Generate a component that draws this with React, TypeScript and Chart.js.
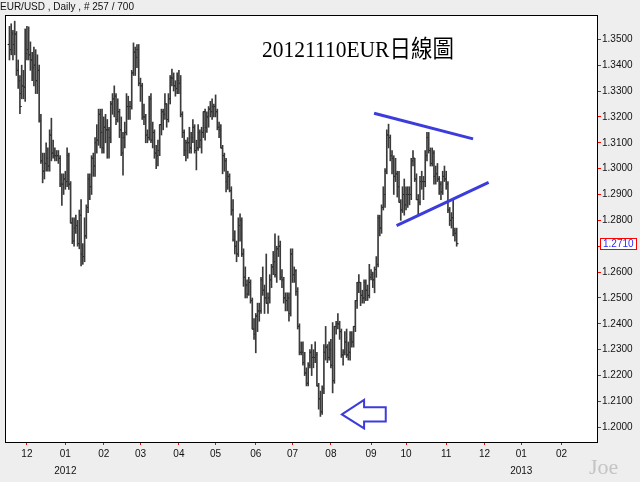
import React, { useEffect, useRef } from "react";
import { Chart, registerables } from "chart.js";
Chart.register(...registerables);

// Bar index = weekday count from 2011-12-01 (index 0). First bar is 2011-11-17.
const firstIndex = -10;

const opens = [
  1.3480,1.3460,1.3520,1.3480,1.3520,1.3380,1.3340,1.3290,1.3320,1.3315,
  1.3445,1.3460,1.3440,1.3420,1.3390,1.3400,1.3340,1.3380,1.3185,1.3030,1.2990,1.3020,1.3040,1.3010,1.3130,1.3060,1.3050,1.3050,1.3050,1.3040,1.2940,1.2940,
  1.2960,1.2950,1.3050,1.2940,1.2790,1.2720,1.2770,1.2780,1.2710,1.2820,1.2670,1.2660,1.2740,1.2850,1.2960,1.2930,1.3040,1.3010,1.3100,1.3110,1.3210,1.3140,
  1.3080,1.3160,1.3150,1.3150,1.3120,1.3250,1.3270,1.3280,1.3190,1.3220,1.3150,1.3060,1.3120,1.3140,1.3240,1.3240,1.3240,1.3370,1.3450,1.3430,1.3460,
  1.3330,1.3320,1.3200,1.3200,1.3130,1.3120,1.3270,1.3110,1.3140,1.3060,1.3050,1.3070,1.3170,1.3220,1.3210,1.3250,1.3190,1.3270,1.3350,1.3350,1.3320,1.3310,
  1.3340,1.3330,1.3210,1.3140,1.3070,1.3100,1.3100,1.3080,1.3120,1.3160,1.3070,1.3080,1.3140,1.3110,1.3140,1.3220,1.3160,1.3200,1.3230,1.3220,1.3240,
  1.3240,1.3220,1.3160,1.3150,1.3080,1.3050,1.3030,1.2950,1.2970,1.2915,1.2840,1.2725,1.2700,1.2670,1.2780,1.2800,1.2670,1.2580,1.2550,1.2515,1.2560,1.2490,1.2380,
  1.2360,1.2430,1.2450,1.2450,1.2570,1.2530,1.2500,1.2480,1.2500,1.2570,1.2620,1.2640,1.2590,1.2690,1.2700,1.2580,1.2570,1.2500,1.2490,1.2500,1.2440,
  1.2670,1.2590,1.2605,1.2525,1.2390,1.2290,1.2290,1.2250,1.2210,1.2170,1.2240,1.2290,1.2270,1.2270,1.2280,1.2160,1.2110,1.2060,1.2150,1.2290,1.2310,1.2270,
  1.2300,1.2240,1.2180,1.2390,1.2400,1.2400,1.2370,1.2280,1.2290,1.2330,1.2280,1.2290,1.2340,1.2330,1.2390,1.2490,1.2560,1.2560,1.2510,1.2500,1.2560,1.2530,1.2510,
  1.2580,1.2590,1.2570,1.2610,1.2630,1.2810,1.2770,1.2850,1.2900,1.2990,1.3130,1.3120,1.3050,1.3040,1.2970,1.2980,1.2930,1.2870,1.2840,1.2900,
  1.2860,1.2900,1.2900,1.2900,1.3030,1.3040,1.2960,1.2880,1.2870,1.2950,1.2950,1.2950,1.3050,1.3120,1.3070,1.3020,1.3060,1.2970,1.2980,1.2960,1.2940,1.2910,1.2970,
  1.2960,1.2940,1.2840,1.2800,1.2810,1.2760,1.2750,
];
const highs = [
  1.3550,1.3560,1.3535,1.3570,1.3530,1.3420,1.3360,1.3400,1.3380,1.3540,
  1.3550,1.3548,1.3490,1.3450,1.3470,1.3460,1.3440,1.3400,1.3210,1.3060,1.3060,1.3100,1.3080,1.3150,1.3195,1.3110,1.3080,1.3070,1.3070,1.3050,1.2980,1.2980,
  1.2990,1.3080,1.3060,1.2950,1.2810,1.2810,1.2820,1.2800,1.2840,1.2880,1.2710,1.2810,1.2860,1.2980,1.2980,1.3050,1.3060,1.3120,1.3170,1.3230,1.3230,1.3230,
  1.3200,1.3210,1.3190,1.3160,1.3260,1.3290,1.3320,1.3290,1.3270,1.3230,1.3200,1.3140,1.3180,1.3290,1.3280,1.3260,1.3380,1.3486,1.3470,1.3480,1.3480,
  1.3350,1.3330,1.3250,1.3210,1.3150,1.3280,1.3290,1.3180,1.3150,1.3090,1.3110,1.3170,1.3230,1.3230,1.3290,1.3250,1.3290,1.3360,1.3385,1.3370,1.3340,1.3370,
  1.3380,1.3360,1.3220,1.3150,1.3110,1.3120,1.3160,1.3140,1.3190,1.3170,1.3110,1.3170,1.3150,1.3160,1.3220,1.3230,1.3220,1.3240,1.3260,1.3270,1.3250,
  1.3285,1.3230,1.3180,1.3170,1.3090,1.3060,1.3040,1.2990,1.2980,1.2930,1.2880,1.2760,1.2720,1.2810,1.2825,1.2810,1.2690,1.2620,1.2570,1.2580,1.2570,1.2500,1.2420,
  1.2440,1.2480,1.2480,1.2580,1.2620,1.2550,1.2670,1.2520,1.2590,1.2630,1.2680,1.2748,1.2700,1.2740,1.2720,1.2610,1.2580,1.2520,1.2520,1.2520,1.2690,
  1.2690,1.2620,1.2610,1.2540,1.2400,1.2330,1.2330,1.2290,1.2230,1.2250,1.2300,1.2320,1.2300,1.2330,1.2290,1.2170,1.2140,1.2160,1.2320,1.2390,1.2320,1.2330,
  1.2340,1.2405,1.2390,1.2410,1.2440,1.2410,1.2380,1.2300,1.2370,1.2380,1.2330,1.2370,1.2370,1.2390,1.2490,1.2560,1.2590,1.2560,1.2530,1.2570,1.2570,1.2550,1.2630,
  1.2610,1.2600,1.2620,1.2660,1.2820,1.2820,1.2860,1.2930,1.3000,1.3150,1.3172,1.3130,1.3070,1.3050,1.3040,1.2990,1.2990,1.2880,1.2930,1.2960,
  1.2930,1.2930,1.2930,1.3040,1.3070,1.3040,1.2980,1.2900,1.2970,1.2990,1.2970,1.3070,1.3140,1.3140,1.3080,1.3080,1.3070,1.3010,1.3020,1.2970,1.2950,1.2990,1.3010,
  1.2990,1.2950,1.2850,1.2830,1.2880,1.2770,1.2770,
];
const lows = [
  1.3420,1.3440,1.3420,1.3440,1.3360,1.3310,1.3212,1.3270,1.3270,1.3260,
  1.3420,1.3420,1.3380,1.3340,1.3320,1.3290,1.3290,1.3180,1.3020,1.2945,1.2960,1.2990,1.2990,1.2990,1.3030,1.3040,1.3030,1.3030,1.3020,1.2930,1.2858,1.2900,
  1.2920,1.2930,1.2920,1.2790,1.2710,1.2700,1.2750,1.2700,1.2690,1.2624,1.2630,1.2640,1.2730,1.2830,1.2880,1.2900,1.2970,1.2970,1.3060,1.3090,1.3080,1.3060,
  1.3060,1.3100,1.3040,1.3040,1.3100,1.3210,1.3200,1.3170,1.3180,1.3120,1.3050,1.2975,1.3080,1.3130,1.3190,1.3190,1.3230,1.3360,1.3360,1.3390,1.3320,
  1.3260,1.3190,1.3170,1.3100,1.3100,1.3110,1.3100,1.3080,1.3040,1.3000,1.3010,1.3050,1.3130,1.3150,1.3190,1.3160,1.3180,1.3250,1.3320,1.3300,1.3280,1.3290,
  1.3290,1.3200,1.3120,1.3050,1.3030,1.3040,1.3060,1.3060,1.3100,1.3060,1.2995,1.3070,1.3080,1.3060,1.3120,1.3110,1.3140,1.3160,1.3200,1.3190,1.3200,
  1.3200,1.3150,1.3120,1.3080,1.2980,1.2990,1.2910,1.2920,1.2910,1.2820,1.2720,1.2670,1.2640,1.2660,1.2720,1.2660,1.2545,1.2500,1.2500,1.2510,1.2480,1.2380,1.2340,
  1.2288,1.2370,1.2410,1.2440,1.2510,1.2440,1.2480,1.2440,1.2480,1.2540,1.2590,1.2580,1.2560,1.2660,1.2570,1.2540,1.2480,1.2450,1.2450,1.2410,1.2430,
  1.2560,1.2560,1.2510,1.2380,1.2280,1.2280,1.2240,1.2200,1.2160,1.2160,1.2230,1.2200,1.2230,1.2250,1.2160,1.2070,1.2042,1.2050,1.2130,1.2260,1.2250,1.2260,
  1.2230,1.2133,1.2170,1.2360,1.2380,1.2340,1.2270,1.2240,1.2280,1.2270,1.2260,1.2260,1.2310,1.2310,1.2370,1.2460,1.2520,1.2470,1.2480,1.2480,1.2490,1.2490,1.2500,
  1.2570,1.2540,1.2520,1.2580,1.2620,1.2740,1.2750,1.2840,1.2850,1.2980,1.3080,1.3030,1.2980,1.2900,1.2950,1.2890,1.2870,1.2800,1.2830,1.2820,
  1.2840,1.2850,1.2860,1.2880,1.3010,1.2950,1.2880,1.2820,1.2860,1.2920,1.2880,1.2930,1.3030,1.3060,1.3010,1.3010,1.2940,1.2940,1.2950,1.2900,1.2880,1.2900,1.2950,
  1.2920,1.2830,1.2780,1.2770,1.2740,1.2720,1.2700,
];
const closes = [
  1.3460,1.3525,1.3480,1.3520,1.3380,1.3340,1.3240,1.3320,1.3315,1.3445,
  1.3460,1.3440,1.3420,1.3390,1.3400,1.3340,1.3380,1.3185,1.3030,1.2990,1.3020,1.3040,1.3010,1.3130,1.3060,1.3050,1.3050,1.3050,1.3040,1.2940,1.2940,1.2960,
  1.2950,1.3050,1.2940,1.2790,1.2720,1.2770,1.2780,1.2710,1.2820,1.2670,1.2660,1.2740,1.2850,1.2960,1.2930,1.3040,1.3010,1.3100,1.3110,1.3210,1.3140,1.3080,
  1.3160,1.3150,1.3150,1.3120,1.3250,1.3270,1.3280,1.3190,1.3220,1.3150,1.3060,1.3120,1.3140,1.3240,1.3240,1.3240,1.3370,1.3450,1.3430,1.3460,1.3330,
  1.3320,1.3200,1.3200,1.3130,1.3120,1.3270,1.3110,1.3140,1.3060,1.3050,1.3070,1.3170,1.3220,1.3210,1.3250,1.3190,1.3270,1.3350,1.3350,1.3320,1.3310,1.3340,
  1.3330,1.3210,1.3140,1.3070,1.3100,1.3100,1.3080,1.3120,1.3160,1.3070,1.3080,1.3140,1.3110,1.3140,1.3220,1.3160,1.3200,1.3230,1.3220,1.3240,1.3240,
  1.3220,1.3160,1.3150,1.3080,1.3050,1.3030,1.2950,1.2970,1.2915,1.2840,1.2725,1.2700,1.2670,1.2780,1.2800,1.2670,1.2580,1.2550,1.2515,1.2560,1.2490,1.2380,1.2360,
  1.2430,1.2450,1.2450,1.2570,1.2530,1.2500,1.2480,1.2500,1.2570,1.2620,1.2640,1.2590,1.2690,1.2700,1.2580,1.2570,1.2500,1.2490,1.2500,1.2440,1.2670,
  1.2590,1.2605,1.2525,1.2390,1.2290,1.2290,1.2250,1.2210,1.2170,1.2240,1.2290,1.2270,1.2270,1.2280,1.2160,1.2110,1.2060,1.2150,1.2290,1.2310,1.2270,1.2300,
  1.2240,1.2180,1.2390,1.2400,1.2400,1.2370,1.2280,1.2290,1.2330,1.2280,1.2290,1.2340,1.2330,1.2390,1.2490,1.2560,1.2560,1.2510,1.2500,1.2560,1.2530,1.2510,1.2580,
  1.2590,1.2570,1.2610,1.2630,1.2810,1.2770,1.2850,1.2900,1.2990,1.3130,1.3120,1.3050,1.3040,1.2970,1.2980,1.2930,1.2870,1.2840,1.2900,1.2860,
  1.2900,1.2900,1.2900,1.3030,1.3040,1.2960,1.2880,1.2870,1.2950,1.2950,1.2950,1.3050,1.3120,1.3070,1.3020,1.3060,1.2970,1.2980,1.2960,1.2940,1.2910,1.2970,1.2960,
  1.2940,1.2840,1.2800,1.2810,1.2760,1.2750,1.2710,
];

const monthTickIndex = [0, 22, 44, 65, 87, 108, 131, 152, 174, 197, 217, 240, 262, 283, 306];
const monthTickLabels = ["12", "01", "02", "03", "04", "05", "06", "07", "08", "09", "10", "11", "12", "01", "02"];
const yearLabels = ["", "2012", "", "", "", "", "", "", "", "", "", "", "", "2013", ""];
const priceTicks = [1.20, 1.21, 1.22, 1.23, 1.24, 1.25, 1.26, 1.27, 1.28, 1.29, 1.30, 1.31, 1.32, 1.33, 1.34, 1.35];
const lastPrice = 1.2710;

const headerText = "EUR/USD , Daily , # 257 / 700";
const titleText = "20121110EUR日線圖";
const signText = "Joe";

// trend lines [index, price]
const upperLine = [[198.7, 1.3214], [255.4, 1.3115]];
const lowerLine = [[211.6, 1.2780], [264.3, 1.2947]];
// left-pointing arrow outline [index, price]
const arrowPath = [
  [180.3, 1.2050], [193.0, 1.2106], [193.0, 1.2078], [205.4, 1.2078],
  [205.4, 1.2022], [193.0, 1.2022], [193.0, 1.1996],
];

const xMin = -12.55;
const xMax = 326.9;
const yMin = 1.19432;
const yMax = 1.35939;

const BLUE = "#3c3cdc";
const SANS = '"Liberation Sans", Arial, sans-serif';

export default function App() {
  const ref = useRef<HTMLCanvasElement>(null);

  useEffect(() => {
    const canvas = ref.current;
    if (!canvas) return;
    const xs = opens.map((_, i) => firstIndex + i);
    const rangeData = xs.map((x, i) => ({ x, y: [lows[i], highs[i]] }));
    const openData = xs.map((x, i) => ({ x: x - 0.45, y: opens[i] }));
    const closeData = xs.map((x, i) => ({ x: x + 0.45, y: closes[i] }));

    const decor = {
      id: "decor",
      beforeDraw(chart: any) {
        const { ctx, chartArea: a } = chart;
        ctx.save();
        ctx.fillStyle = "#eeeeee";
        ctx.fillRect(0, 0, chart.width, chart.height);
        ctx.fillStyle = "#ffffff";
        ctx.fillRect(a.left, a.top, a.right - a.left, a.bottom - a.top);
        ctx.restore();
      },
      afterDraw(chart: any) {
        const { ctx, chartArea: a } = chart;
        const xs = chart.scales.x;
        const ys = chart.scales.y;
        const px = (v: number) => xs.getPixelForValue(v);
        const py = (v: number) => ys.getPixelForValue(v);
        ctx.save();
        // frame
        ctx.strokeStyle = "#000";
        ctx.lineWidth = 1;
        ctx.strokeRect(a.left + 0.5, a.top + 0.5, a.right - a.left - 1, a.bottom - a.top + 0);

        // trend lines
        ctx.strokeStyle = BLUE;
        ctx.lineWidth = 3;
        ctx.lineCap = "butt";
        for (const ln of [upperLine, lowerLine]) {
          ctx.beginPath();
          ctx.moveTo(px(ln[0][0]), py(ln[0][1]));
          ctx.lineTo(px(ln[1][0]), py(ln[1][1]));
          ctx.stroke();
        }
        // arrow
        ctx.lineWidth = 2;
        ctx.lineJoin = "miter";
        ctx.beginPath();
        arrowPath.forEach((p, i) => {
          if (i === 0) ctx.moveTo(px(p[0]), py(p[1]));
          else ctx.lineTo(px(p[0]), py(p[1]));
        });
        ctx.closePath();
        ctx.stroke();

        // header
        ctx.fillStyle = "#111";
        ctx.font = `10px ${SANS}`;
        ctx.textBaseline = "alphabetic";
        ctx.textAlign = "left";
        ctx.fillText(headerText, 0, 10);

        // title (slightly tall glyphs like the original)
        ctx.fillStyle = "#000";
        ctx.font = '21.5px "Liberation Serif", "Noto Sans CJK TC", serif';
        ctx.save();
        ctx.translate(262, 56.5);
        ctx.scale(1, 1.1);
        ctx.fillText(titleText, 0, 0);
        ctx.restore();

        // signature
        ctx.fillStyle = "#c4c4c4";
        ctx.font = '22px "Liberation Serif", serif';
        ctx.fillText(signText, 589, 474);

        // last price label
        const ly = Math.round(py(lastPrice));
        ctx.fillStyle = "#ffffff";
        ctx.fillRect(600.5, ly - 5.5, 36, 11);
        ctx.strokeStyle = "#ff0000";
        ctx.lineWidth = 1;
        ctx.strokeRect(600.5, ly - 5.5, 36, 11);
        ctx.fillStyle = "#2a2aff";
        ctx.font = `10px ${SANS}`;
        ctx.textBaseline = "middle";
        ctx.fillText(lastPrice.toFixed(4), 603, ly + 0.5);
        ctx.restore();
      },
    };

    const chart = new Chart(canvas, {
      type: "bar",
      data: {
        datasets: [
          {
            type: "bar",
            data: rangeData as any,
            backgroundColor: "#3a3a3a",
            borderWidth: 0,
            barThickness: 1,
          },
          {
            type: "line",
            data: openData as any,
            showLine: false,
            pointStyle: "line",
            pointRadius: 1,
            pointBorderWidth: 1,
            pointBorderColor: "#000",
            borderColor: "#000",
          },
          {
            type: "line",
            data: closeData as any,
            showLine: false,
            pointStyle: "line",
            pointRadius: 1,
            pointBorderWidth: 1,
            pointBorderColor: "#000",
            borderColor: "#000",
          },
        ],
      },
      options: {
        responsive: false,
        animation: false,
        devicePixelRatio: 1,
        events: [],
        layout: { padding: { left: 3, top: 15, right: 0, bottom: 0 } },
        plugins: { legend: { display: false }, tooltip: { enabled: false } },
        scales: {
          x: {
            type: "linear",
            min: xMin,
            max: xMax,
            offset: false,
            position: "bottom",
            afterBuildTicks: (s: any) => {
              s.ticks = monthTickIndex.map((v) => ({ value: v }));
            },
            afterFit: (s: any) => {
              s.height = 40;
            },
            grid: { drawOnChartArea: false, drawTicks: true, tickLength: 3, color: "#ff0000", offset: false },
            border: { display: false },
            ticks: {
              autoSkip: false,
              maxRotation: 0,
              minRotation: 0,
              padding: 1,
              color: "#111",
              font: { family: SANS, size: 10, lineHeight: 1.67 },
              callback: (_v: any, i: number) =>
                yearLabels[i] ? [monthTickLabels[i], yearLabels[i]] : monthTickLabels[i],
            },
          },
          y: {
            type: "linear",
            position: "right",
            min: yMin,
            max: yMax,
            afterBuildTicks: (s: any) => {
              s.ticks = priceTicks.map((v) => ({ value: v }));
            },
            afterFit: (s: any) => {
              s.width = 42;
            },
            grid: { drawOnChartArea: false, drawTicks: true, tickLength: 3, color: "#ff0000" },
            border: { display: false },
            ticks: {
              padding: 1,
              color: "#111",
              font: { family: SANS, size: 10 },
              callback: (v: any) => Number(v).toFixed(4),
            },
          },
        },
      } as any,
      plugins: [decor],
    });
    return () => chart.destroy();
  }, []);

  return (
    <div style={{ position: "absolute", left: 0, top: 0, width: 640, height: 482, background: "#eeeeee" }}>
      <canvas ref={ref} width={640} height={482} style={{ display: "block" }} />
    </div>
  );
}
